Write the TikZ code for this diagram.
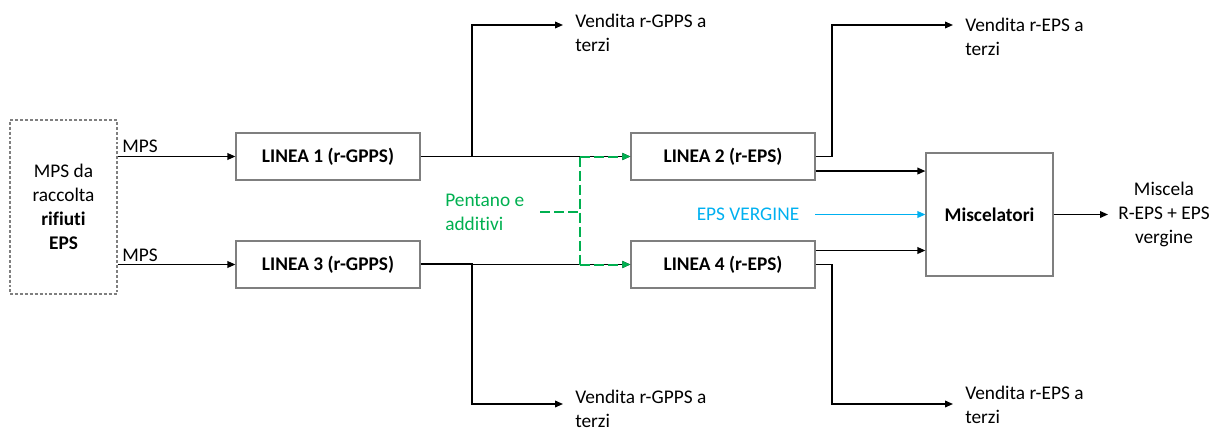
\documentclass[tikz,border=0pt]{standalone}
\usepackage{fontspec}
\setmainfont{Carlito}[Ligatures={NoCommon,NoContextual}]
\usetikzlibrary{arrows.meta,calc}
\definecolor{gbord}{RGB}{127,127,127}
\definecolor{pgreen}{RGB}{0,176,80}
\definecolor{pblue}{RGB}{0,176,240}
\begin{document}
\begin{tikzpicture}[x=0.75pt,y=-0.75pt,
  font=\fontsize{14.5}{18}\selectfont,
  linebox/.style={draw=gbord, line width=0.9pt, minimum width=138pt, minimum height=35.25pt, inner sep=0pt, font=\fontsize{14.5}{18}\selectfont\bfseries},
  arr/.style={-{Triangle[length=6pt,width=5pt]}, line width=1.1pt, black},
  garr/.style={-{Triangle[length=6pt,width=5pt]}, line width=1.5pt, pgreen, dash pattern=on 7.5pt off 3pt},
  gline/.style={line width=1.5pt, pgreen, dash pattern=on 7.5pt off 3pt},
  barr/.style={-{Triangle[length=6pt,width=5pt]}, line width=1.1pt, pblue},
  txt/.style={inner sep=0pt, align=left, anchor=north west}]
\useasboundingbox (0,0) rectangle (1223,432);
% boxes
\node[draw=gbord, line width=0.9pt, dash pattern=on 2.2pt off 1.5pt, minimum width=80.25pt, minimum height=130.5pt, inner sep=0pt, align=center] (src) at (63.5,207) {MPS da\\raccolta\\\textbf{rifiuti}\\\textbf{EPS}};
\node[linebox] (L1) at (328,156.5) {LINEA 1 (r-GPPS)};
\node[linebox] (L3) at (328,264.5) {LINEA 3 (r-GPPS)};
\node[linebox] (L2) at (723,156.5) {LINEA 2 (r-EPS)};
\node[linebox] (L4) at (723,264.5) {LINEA 4 (r-EPS)};
\node[draw=gbord, line width=0.9pt, minimum width=95.25pt, minimum height=92.25pt, inner sep=0pt, font=\fontsize{14.5}{18}\selectfont\bfseries] (mix) at (989.5,214.5) {Miscelatori};
% texts
\node[anchor=base west, inner sep=0pt] (mps1) at (122,152) {MPS};
\node[anchor=base west, inner sep=0pt] (mps3) at (122,261) {MPS};
\node[txt] (v1) at (575,10) {\strut Vendita r-GPPS a\\terzi};
\node[txt] (v3) at (575,386) {\strut Vendita r-GPPS a\\terzi};
\node[txt] (v2) at (965,14) {\strut Vendita r-EPS a\\terzi};
\node[txt] (v4) at (965,382) {\strut Vendita r-EPS a\\terzi};
\node[txt, text=pgreen] (pent) at (445,189) {\strut Pentano e\\additivi};
\node[inner xsep=12pt, inner ysep=0pt, text=pblue] (ev) at (748,214.5) {EPS VERGINE};
\node[anchor=west, align=center, inner xsep=7.5pt, inner ysep=0pt] (out) at (1108,214.5) {Miscela\\R-EPS + EPS\\vergine};
% coordinates
\coordinate (b1) at (472,156.5);
\coordinate (a1) at (563,25);
\coordinate (b3) at (472,263.5);
\coordinate (a3) at (563,404);
\coordinate (c2) at (832,25);
\coordinate (a2) at (953,25);
\coordinate (c4) at (832,404);
\coordinate (a4) at (953,404);
\coordinate (gt) at (580,156.5);
\coordinate (gb) at (580,264.5);
\coordinate (ga) at (540,212);
\coordinate (gm) at (580,212);
% connectors
\draw[arr] (src.east |- L1.west) -- (L1.west);
\draw[arr] (src.east |- L3.west) -- (L3.west);
\draw[arr] (L1.east) -- (L2.west);
\draw[arr] (L3.east) -- (L4.west);
\draw[arr] (b1) |- (a1);
\draw[arr] (L3.east |- b3) -- (b3) |- (a3);
\draw[arr] (L2.east) -| (c2) -- (a2);
\draw[arr] (L4.east) -| (c4) -- (a4);
\draw[arr] ([yshift=-10.9pt]L2.east) -- ([yshift=-10.9pt]L2.east -| mix.west);
\draw[arr] ([yshift=10.5pt]L4.east) -- ([yshift=10.5pt]L4.east -| mix.west);
\draw[barr] (ev.east) -- (ev.east -| mix.west);
\draw[arr] (mix.east) -- (out.west);
% green dashed
\draw[gline] (gt) -- (gb);
\draw[gline] (ga) -- (gm);
\draw[garr] (gt) -- (L2.west);
\draw[garr] (gb) -- (L4.west);
\end{tikzpicture}
\end{document}
